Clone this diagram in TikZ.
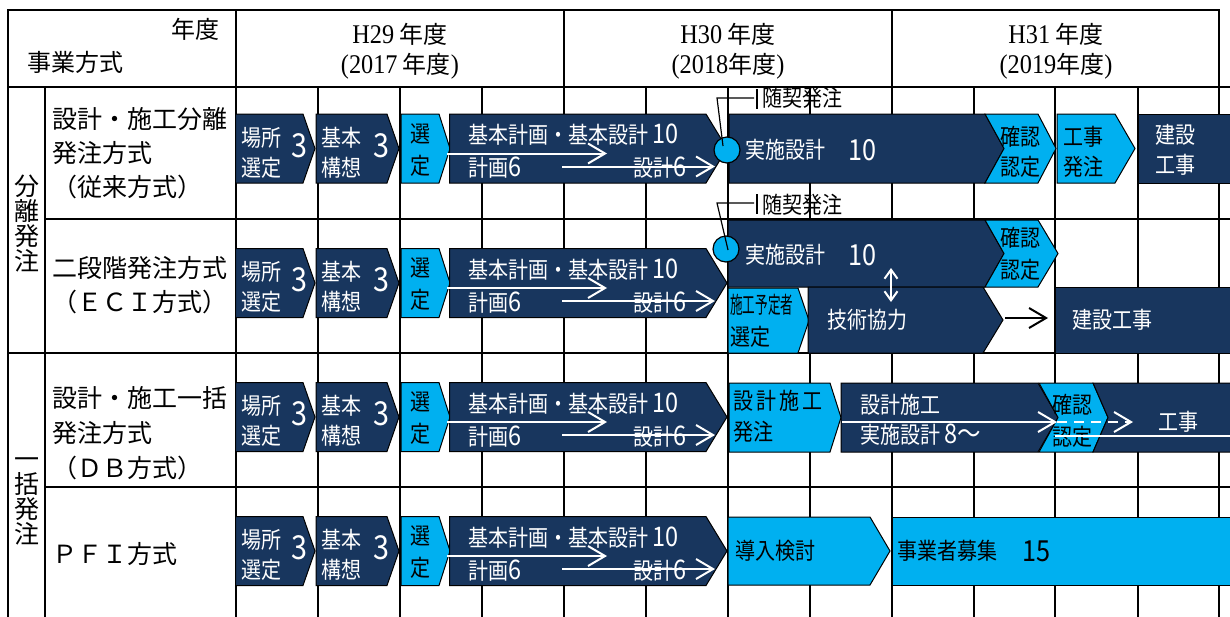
\documentclass[tikz,border=0pt]{standalone}
\usepackage{fontspec}
\usepackage{graphicx}
\setmainfont{Noto Sans CJK JP}
\newfontfamily\bxf[FakeStretch=0.87]{Noto Sans CJK JP}
\newfontfamily\serifL[FakeStretch=0.9]{Liberation Serif}
\usetikzlibrary{arrows.meta}
\definecolor{dk}{RGB}{24,54,94}
\definecolor{lb}{RGB}{0,176,240}
\newcommand\fsz[1]{\fontsize{#1}{#1}\selectfont}
\newcommand\chev[7]{\draw[#1] ({#2},{#5}) -- ({#3},{#5}) -- ({#4},{(#5+#6)/2}) -- ({#3},{#6}) -- ({#2},{#6}) -- ({#7},{(#5+#6)/2}) -- cycle;}
\newcommand\lat[1]{{\serifL\fsz{27}#1}}
\newcommand\dg[1]{{\fsz{27}#1}}
\tikzset{
  gridline/.style={line width=2pt, line cap=rect},
  dkbox/.style={fill=dk, draw=black, line width=1pt},
  lbbox/.style={fill=lb, draw=black, line width=1pt},
  wtxt/.style={text=white, inner sep=0pt, anchor=west, font=\bxf\fsz{23}},
  btxt/.style={text=black, inner sep=0pt, anchor=west, font=\bxf\fsz{23}},
  bnum/.style={text=white, inner sep=0pt, font=\bxf\fsz{33}},
  mnum/.style={inner sep=0pt, font=\bxf\fsz{29}},
  hdr/.style={inner sep=0pt, font=\fsz{24}},
  lbl/.style={inner sep=0pt, anchor=west, font=\fsz{25}},
  warrow/.style={draw=white, line width=2pt, -{Straight Barb[length=17pt,width=20pt]}},
  callout/.style={draw=black, line width=1.2pt},
}
\begin{document}
\begin{tikzpicture}[x=1pt,y=-1pt]
\useasboundingbox (0,0) rectangle (1230,616);
\fill[white] (0,0) rectangle (1230,616);
% grid
\foreach \x in {317.5,400,482,646,728,810,973.5,1055,1137.5} \draw[gridline] (\x,87) -- (\x,616);
\foreach \x in {8,235.5,564,892,1219} \draw[gridline] (\x,10) -- (\x,616);
\draw[gridline] (45,87) -- (45,616);
\draw[gridline] (8,10) -- (1219,10);
\draw[gridline] (8,87) -- (1232,87);
\draw[gridline] (45,218.5) -- (1232,218.5);
\draw[gridline] (8,352.5) -- (1232,352.5);
\draw[gridline] (45,487) -- (1232,487);
% header
\node[hdr, anchor=east] (nendo) at (220,29) {年度};
\node[hdr, anchor=west] (jigyo) at (27,62) {事業方式};
\node[hdr] (h29a) at (400,34) {\lat{H29} 年度};
\node[hdr] (h29b) at (400,66) {\lat{(2017} 年度\lat{)}};
\node[hdr] (h30a) at (728,34) {\lat{H30} 年度};
\node[hdr] (h30b) at (728,66) {\lat{(2018}年度\lat{)}};
\node[hdr] (h31a) at (1056,34) {\lat{H31} 年度};
\node[hdr] (h31b) at (1056,66) {\lat{(2019}年度\lat{)}};
% group labels
\node[inner sep=0pt, font=\fsz{25}, align=center] (g1) at (26.5,224) {\baselineskip=27pt 分\\離\\発\\注};
\node[inner sep=0pt, font=\fsz{25}, align=center] (g2) at (26.5,501) {\baselineskip=27pt 一\\括\\発\\注};
% method labels
\node[lbl] (m1a) at (52,119) {設計・施工分離};
\node[lbl] (m1b) at (52,153) {発注方式};
\node[lbl] (m1c) at (52,187) {（従来方式）};
\node[lbl] (m2a) at (52,268) {二段階発注方式};
\node[lbl] (m2b) at (52,302) {（ＥＣＩ方式）};
\node[lbl] (m3a) at (52,398) {設計・施工一括};
\node[lbl] (m3b) at (52,433) {発注方式};
\node[lbl] (m3c) at (52,468) {（ＤＢ方式）};
\node[lbl] (m4a) at (52,554) {ＰＦＩ方式};
% common first four boxes
\foreach \r/\m in {1/148.5,2/283,3/417,4/551}{
  \pgfmathsetmacro\yt{\m-34.5}
  \pgfmathsetmacro\yb{\m+34.5}
  \chev{dkbox}{235.5}{303}{315}{\yt}{\yb}{235.5}
  \chev{dkbox}{316}{387}{399}{\yt}{\yb}{316}
  \chev{lbbox}{401}{439}{450}{\yt}{\yb}{401}
  \chev{dkbox}{449.5}{706}{727}{\yt}{\yb}{449.5}
  \node[wtxt] (bs1\r) at (241,\m-11) {場所};
  \node[wtxt] (bs2\r) at (241,\m+19) {選定};
  \node[bnum] (bs3\r) at (299,\m-3) {3};
  \node[wtxt] (kk1\r) at (321,\m-11) {基本};
  \node[wtxt] (kk2\r) at (321,\m+19) {構想};
  \node[bnum] (kk3\r) at (381.5,\m-3) {3};
  \node[btxt, anchor=center] (sn1\r) at (420,\m-15) {選};
  \node[btxt, anchor=center] (sn2\r) at (420,\m+17) {定};
  \node[wtxt] (kh1\r) at (468,\m-13.5) {基本計画・基本設計 \dg{10}};
  \node[wtxt] (kh2\r) at (468,\m+19.5) {計画\dg{6}};
  \node[wtxt, anchor=east] (kh3\r) at (687,\m+19.5) {設計\dg{6}};
  \coordinate (a1s\r) at (447,\m+5);
  \coordinate (a1e\r) at (607,\m+5);
  \coordinate (a2s\r) at (562,\m+18);
  \coordinate (a2e\r) at (715,\m+18);
  \draw[warrow] (a1s\r) -- (a1e\r);
  \draw[warrow] (a2s\r) -- (a2e\r);
}
% row 1
\chev{dkbox}{729}{985}{1004}{114}{183}{729}
\chev{lbbox}{985}{1038}{1056}{114}{183}{1004}
\chev{lbbox}{1057}{1115}{1135}{114}{183}{1057}
\chev{dkbox}{1138}{1240}{1240}{114}{183}{1138}
\node[wtxt] (j1a) at (745,150) {実施設計};
\node[mnum, text=white] (j1b) at (862,150) {10};
\node[btxt, anchor=center] (k1a) at (1020,137) {確認};
\node[btxt, anchor=center] (k1b) at (1020,167) {認定};
\node[btxt, anchor=center] (kh1a) at (1083,137) {工事};
\node[btxt, anchor=center] (kh1b) at (1083,167) {発注};
\node[wtxt, anchor=center] (kj1a) at (1175,135) {建設};
\node[wtxt, anchor=center] (kj1b) at (1175,165) {工事};
\node[circle, fill=lb, draw=black, line width=1.2pt, minimum size=26pt, inner sep=0pt] (c1) at (727,150) {};
\coordinate (c1p) at (723,146);
\coordinate (c1q) at (717,98);
\coordinate (c1r) at (754,98);
\coordinate (c1t) at (757,89);
\coordinate (c1u) at (757,109);
\draw[callout] (c1p) -- (c1q) -- (c1r);
\draw[callout] (c1t) -- (c1u);
\node[btxt] (z1) at (762,98) {随契発注};
% row 2
\chev{dkbox}{728}{985}{1004}{220}{287}{728}
\chev{lbbox}{985}{1038}{1058}{220}{287}{1004}
\chev{lbbox}{728}{798}{809}{288}{353}{728}
\chev{dkbox}{808}{983}{1003}{287}{353}{808}
\chev{dkbox}{1055}{1240}{1240}{287}{353}{1055}
\node[wtxt] (j2a) at (745,255) {実施設計};
\node[mnum, text=white] (j2b) at (862,255) {10};
\node[btxt, anchor=center] (k2a) at (1020,238) {確認};
\node[btxt, anchor=center] (k2b) at (1020,270) {認定};
\node[btxt] (sy1) at (730,305) {\scalebox{0.63}[1]{施工予定者}};
\node[btxt] (sy2) at (730,337) {選定};
\node[wtxt] (gk) at (827,320) {技術協力};
\node[wtxt] (kj2) at (1072,320) {建設工事};
\node[circle, fill=lb, draw=black, line width=1.2pt, minimum size=26pt, inner sep=0pt] (c2) at (726,249) {};
\coordinate (c2p) at (728,250);
\coordinate (c2q) at (717,203);
\coordinate (c2r) at (754,203);
\coordinate (c2t) at (757,194);
\coordinate (c2u) at (757,214);
\draw[callout] (c2p) -- (c2q) -- (c2r);
\draw[callout] (c2t) -- (c2u);
\node[btxt] (z2) at (762,205) {随契発注};
\coordinate (d1) at (891,268);
\coordinate (d2) at (891,302);
\draw[white, line width=2pt, {Straight Barb[length=9pt,width=13pt]}-{Straight Barb[length=9pt,width=13pt]}] (d1) -- (d2);
\coordinate (b1) at (1005,318);
\coordinate (b2) at (1048,318);
\draw[black, line width=2pt, -{Straight Barb[length=17pt,width=20pt]}] (b1) -- (b2);
% row 3
\chev{lbbox}{729}{830}{841}{383}{452}{729}
\chev{dkbox}{841}{1038}{1058}{383}{452}{841}
\chev{lbbox}{1039}{1093}{1108}{383}{452}{1058}
\chev{dkbox}{1093}{1240}{1240}{383}{452}{1108}
\node[btxt] (sh1) at (733,401) {設\kern3pt 計\kern3pt 施\kern3pt 工};
\node[btxt] (sh2) at (733,432) {発注};
\node[wtxt] (ss1) at (860,405) {設計施工};
\node[wtxt] (ss2) at (860,435) {実施設計 \dg{8～}};
\node[btxt, anchor=center] (k3a) at (1072,405) {確認};
\node[btxt, anchor=center] (k3b) at (1072,437) {認定};
\node[wtxt] (ko3) at (1158,422) {工事};
\coordinate (e1) at (842,422);
\coordinate (e2) at (1057,422);
\coordinate (e3) at (1133,422);
\coordinate (f1) at (1055,436);
\coordinate (f2) at (1240,436);
\draw[warrow] (e1) -- (e2);
\draw[white, line width=2pt, dash pattern=on 10pt off 7pt, -{Straight Barb[length=17pt,width=20pt]}] (e2) -- (e3);
\draw[white, line width=2pt] (f1) -- (f2);
% row 4
\chev{lbbox}{728}{870}{890}{517}{585}{728}
\chev{lbbox}{892}{1240}{1240}{517}{585}{892}
\node[btxt] (dn) at (735,551) {導入検討};
\node[btxt] (jb) at (897,551) {事業者募集};
\node[mnum] (jb2) at (1036,551) {15};
\end{tikzpicture}
\end{document}
